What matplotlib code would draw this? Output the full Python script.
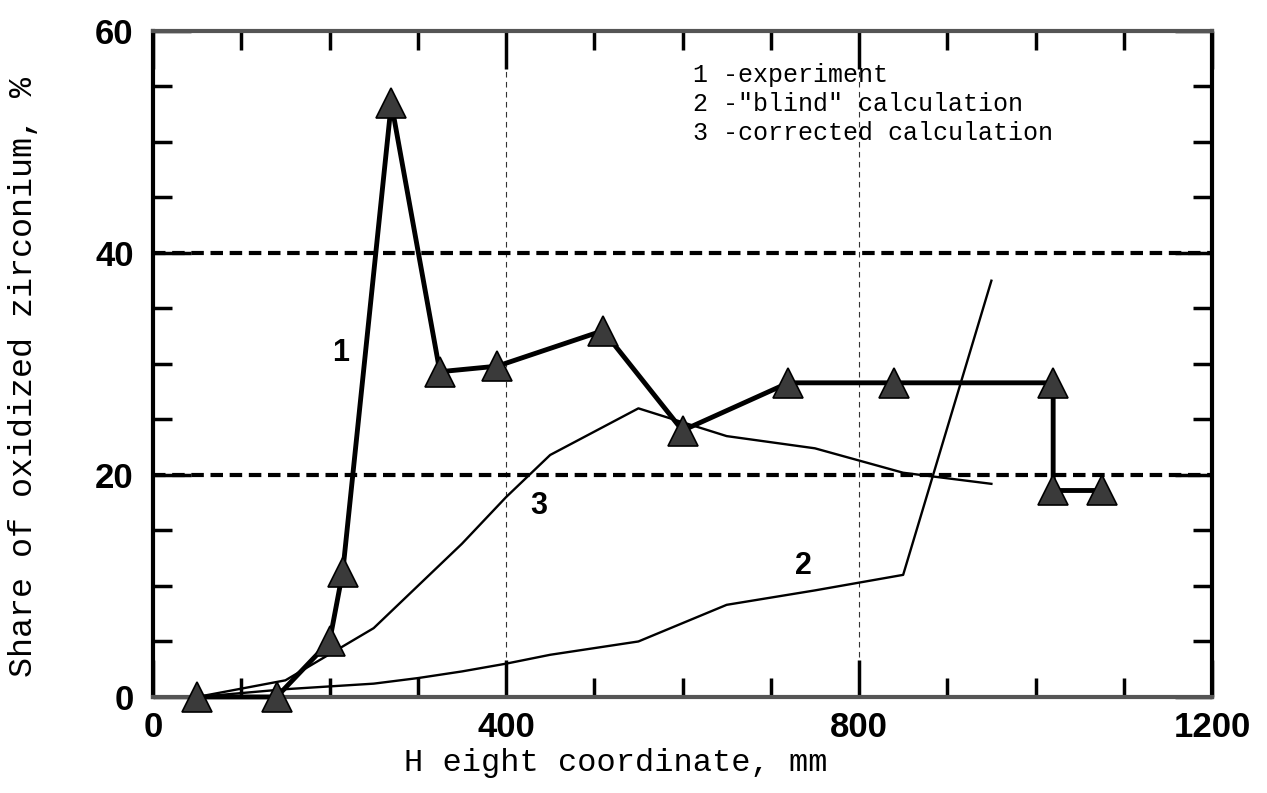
import matplotlib

matplotlib.use("Agg")
import matplotlib.pyplot as plt
from matplotlib.ticker import MultipleLocator

# 1 - experiment
exp_x = [50, 140, 200, 215, 270, 325, 390, 510, 600, 720, 840, 1020, 1020, 1075]
exp_y = [0, 0, 5.0, 11.3, 53.5, 29.3, 29.8, 33.0, 24.0, 28.3, 28.3, 28.3, 18.6, 18.6]

# 2 - "blind" calculation
blind_x = [50, 150, 250, 300, 350, 400, 450, 550, 650, 750, 850, 950]
blind_y = [0, 0.7, 1.2, 1.7, 2.3, 3.0, 3.8, 5.0, 8.3, 9.6, 11.0, 37.5]

# 3 - corrected calculation
corr_x = [50, 150, 250, 350, 400, 450, 550, 650, 750, 850, 950]
corr_y = [0, 1.5, 6.2, 13.8, 18.0, 21.8, 26.0, 23.5, 22.4, 20.2, 19.2]

ref_levels = [20, 40]
grid_x = [400, 800]

legend_lines = ["1 -experiment", '2 -"blind" calculation', "3 -corrected calculation"]
curve_labels = [("1", 212, 31), ("2", 737, 11.8), ("3", 437, 17.2)]

num_font = "Liberation Sans"
txt_font = "Liberation Mono"

fig = plt.figure(figsize=(12.67, 7.93), dpi=100)
ax = fig.add_axes([0.1208, 0.1211, 0.8358, 0.8399])

for xv in grid_x:
    ax.axvline(xv, color="#333333", lw=0.8, dashes=(5, 4), zorder=1)
for yv in ref_levels:
    ax.axhline(yv, color="black", lw=3.0, dashes=(3, 1.6), zorder=1)

ax.plot(blind_x, blind_y, color="black", lw=1.7, zorder=2)
ax.plot(corr_x, corr_y, color="black", lw=1.7, zorder=2)
ax.plot(exp_x, exp_y, color="black", lw=3.5, marker="^", markersize=22,
        markerfacecolor="#3a3a3a", markeredgecolor="black", markeredgewidth=1.2,
        zorder=3, clip_on=False)

for text, tx, ty in curve_labels:
    ax.text(tx, ty, text, fontsize=22, family=num_font, weight="bold",
            ha="center", va="center")

for i, line in enumerate(legend_lines):
    ax.text(612, 56.0 - i * 2.6, line, fontsize=18, family=txt_font,
            ha="left", va="center")

ax.set_xlim(0, 1200)
ax.set_ylim(0, 60)
ax.xaxis.set_major_locator(MultipleLocator(400))
ax.xaxis.set_minor_locator(MultipleLocator(100))
ax.yaxis.set_major_locator(MultipleLocator(20))
ax.yaxis.set_minor_locator(MultipleLocator(5))
ax.tick_params(which="both", direction="in", top=True, right=True, width=2.5)
ax.tick_params(which="major", length=27)
ax.tick_params(which="minor", length=14)
ax.tick_params(axis="x", which="major", pad=10)
ax.tick_params(axis="y", which="major", pad=14)
for lbl in ax.get_xticklabels() + ax.get_yticklabels():
    lbl.set_family(num_font)
    lbl.set_fontsize(25)
    lbl.set_weight("bold")

for side in ["left", "right"]:
    ax.spines[side].set_linewidth(3.0)
for side in ["top", "bottom"]:
    ax.spines[side].set_linewidth(3.0)
    ax.spines[side].set_color("#555555")

ax.set_xlabel("H eight coordinate, mm", family=txt_font, fontsize=23)
ax.set_ylabel("Share of oxidized zirconium, %", family=txt_font, fontsize=24)
ax.xaxis.set_label_coords(0.437, -0.077)
ax.yaxis.set_label_coords(-0.108, 0.48)

fig.savefig("out.png", dpi=100)
plt.close(fig)
